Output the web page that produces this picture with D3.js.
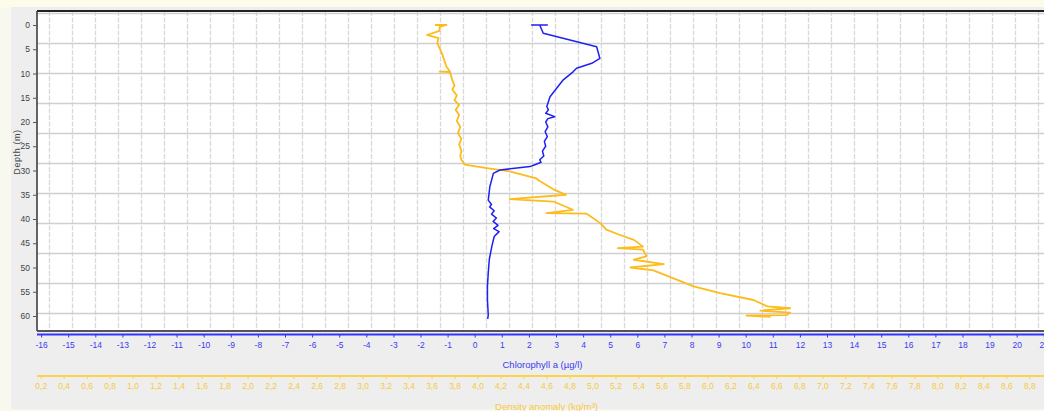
<!DOCTYPE html>
<html>
<head>
<meta charset="utf-8">
<script src="https://cdnjs.cloudflare.com/ajax/libs/d3/7.8.5/d3.min.js"></script>
<style>
body{ margin:0; padding:0; background:#f8f8ef; overflow:hidden; }
svg{ display:block; font-family:"Liberation Sans", Arial, sans-serif; }
</style>
</head>
<body>
<div id="chart"></div>
<script>
// chlorophyll a profile (µg/l) vs depth (m)
var chlDepth = [0, 0, 0, 1.7, 4.5, 6.9, 7.9, 8.9, 9.6, 11.3, 13.0, 14.8, 16.8, 17.5, 18.2, 18.9, 19.3, 20.0, 21.0, 22.0, 23.0, 24.0, 25.0, 26.0, 27.0, 27.8, 28.3, 28.8, 29.2, 29.9, 30.6, 33.3, 36.1, 37.0, 37.5, 38.3, 39.0, 39.8, 40.5, 41.3, 42.0, 42.6, 43.6, 45.7, 48.3, 51.1, 53.9, 56.6, 59.8, 60.6];
var chlValue = [2.7, 2.1, 2.4, 2.53, 4.5, 4.62, 4.32, 3.76, 3.64, 3.27, 3.03, 2.78, 2.66, 2.72, 2.62, 2.95, 2.7, 2.62, 2.7, 2.6, 2.68, 2.57, 2.62, 2.5, 2.55, 2.4, 2.45, 2.22, 2.04, 0.93, 0.69, 0.56, 0.5, 0.62, 0.55, 0.72, 0.62, 0.8, 0.68, 0.86, 0.7, 0.9, 0.72, 0.63, 0.54, 0.5, 0.47, 0.47, 0.5, 0.48];
// density anomaly profile (kg/m³) vs depth (m)
var denDepth = [0, 0, 0.4, 1.2, 2.06, 2.7, 3.8, 5.8, 8.6, 9.6, 9.6, 9.7, 11.3, 12.5, 13.3, 14.5, 15.5, 16.5, 17.5, 18.5, 19.8, 21.0, 22.3, 23.5, 24.6, 26.0, 27.0, 27.8, 28.8, 29.5, 30.2, 31.6, 32.0, 34.0, 35.0, 35.9, 36.4, 38.1, 38.8, 38.9, 40.9, 42.2, 43.3, 44.3, 45.7, 46.0, 46.3, 47.7, 48.4, 49.3, 50.0, 50.6, 52.2, 53.9, 55.3, 56.7, 58.0, 58.4, 58.9, 59.3, 59.8, 59.9, 60.2];
var denValue = [3.63, 3.73, 3.67, 3.67, 3.56, 3.66, 3.65, 3.69, 3.73, 3.76, 3.67, 3.76, 3.78, 3.80, 3.78, 3.82, 3.80, 3.84, 3.81, 3.84, 3.82, 3.85, 3.83, 3.86, 3.84, 3.86, 3.85, 3.86, 3.89, 4.08, 4.28, 4.51, 4.53, 4.67, 4.77, 4.28, 4.66, 4.83, 4.60, 4.95, 5.07, 5.12, 5.24, 5.36, 5.44, 5.22, 5.44, 5.47, 5.36, 5.62, 5.33, 5.53, 5.70, 5.88, 6.11, 6.40, 6.52, 6.72, 6.46, 6.72, 6.69, 6.34, 6.55];

var depthTicks = d3.range(0, 61, 5);
var chlTicks = d3.range(-16, 22, 1);
var denTicks = d3.range(0.2, 9.0, 0.2).map(function(v){ return Math.round(v*10)/10; });
// background grid of the plot panel (fixed spacing, not tied to the ticks)
var gridDen = d3.range(0.275, 9.2, 0.2);
var gridDepth = d3.range(-2.41, 63, 6.175);

var W = 1044, H = 411;
var plot = {left:37, top:11, right:1044, bottom:331};

var y = d3.scaleLinear().domain([0, 60]).range([25, 316]);
var xChl = d3.scaleLinear().domain([-16, 20]).range([41.1, 1016.7]);
var xDen = d3.scaleLinear().domain([0.2, 8.8]).range([40.7, 1029.3]);

var svg = d3.select("#chart").append("svg")
    .attr("width", W)
    .attr("height", H);

svg.append("rect").attr("x", 0).attr("y", 0).attr("width", W).attr("height", 8).attr("fill", "#fcfce8");
svg.append("rect").attr("x", 11).attr("y", 7).attr("width", W-11).attr("height", 402).attr("fill", "#eeeeee");
svg.append("rect").attr("x", plot.left).attr("y", plot.top)
    .attr("width", plot.right-plot.left).attr("height", plot.bottom-plot.top)
    .attr("fill", "#ffffff");

var grid = svg.append("g");
grid.selectAll("line.v").data(gridDen.filter(function(d){ return xDen(d) > plot.left && xDen(d) < plot.right; }))
  .enter().append("line").attr("class", "v")
    .attr("x1", function(d){ return Math.round(xDen(d))+0.5; })
    .attr("x2", function(d){ return Math.round(xDen(d))+0.5; })
    .attr("y1", plot.top).attr("y2", plot.bottom)
    .attr("stroke", "#d9d9d9").attr("stroke-width", 1.3)
    .attr("stroke-dasharray", "5,1.5");
grid.selectAll("line.h").data(gridDepth.filter(function(d){ return y(d) > plot.top && y(d) < plot.bottom; }))
  .enter().append("line").attr("class", "h")
    .attr("x1", plot.left).attr("x2", plot.right)
    .attr("y1", function(d){ return Math.round(y(d))+0.5; })
    .attr("y2", function(d){ return Math.round(y(d))+0.5; })
    .attr("stroke", "#cfcfcf").attr("stroke-width", 1.5);

// plot border
svg.append("line").attr("x1", plot.left).attr("x2", plot.right).attr("y1", plot.top).attr("y2", plot.top)
    .attr("stroke", "#222").attr("stroke-width", 2);
svg.append("line").attr("x1", plot.left).attr("x2", plot.left).attr("y1", plot.top).attr("y2", plot.bottom)
    .attr("stroke", "#333").attr("stroke-width", 1.5);
svg.append("line").attr("x1", plot.left).attr("x2", plot.right).attr("y1", plot.bottom).attr("y2", plot.bottom)
    .attr("stroke", "#555").attr("stroke-width", 2);

// profiles
var lineDen = d3.line().x(function(d){ return xDen(d[1]); }).y(function(d){ return y(d[0]); });
var lineChl = d3.line().x(function(d){ return xChl(d[1]); }).y(function(d){ return y(d[0]); });
svg.append("path").datum(d3.zip(denDepth, denValue))
    .attr("d", lineDen).attr("fill", "none")
    .attr("stroke", "#fdbb1c").attr("stroke-width", 1.8).attr("stroke-linejoin", "round");
svg.append("path").datum(d3.zip(chlDepth, chlValue))
    .attr("d", lineChl).attr("fill", "none")
    .attr("stroke", "#1f1ff5").attr("stroke-width", 1.5).attr("stroke-linejoin", "round");

// depth axis
var yAxis = svg.append("g").attr("transform", "translate(" + plot.left + ",0)")
    .call(d3.axisLeft(y).tickValues(depthTicks).tickSize(4).tickPadding(3));
yAxis.select(".domain").remove();
yAxis.selectAll("line").attr("stroke", "#555");
yAxis.selectAll("text").attr("fill", "#444").attr("font-size", "8.5px");
svg.append("text").attr("transform", "translate(20,152) rotate(-90)")
    .attr("text-anchor", "middle").attr("fill", "#444").attr("font-size", "9px")
    .attr("letter-spacing", "0.6px").text("Depth (m)");

// chlorophyll axis
var xA = svg.append("g").attr("transform", "translate(0,334.5)")
    .call(d3.axisBottom(xChl).tickValues(chlTicks).tickSize(3).tickPadding(4).tickFormat(d3.format("d")));
xA.select(".domain").attr("d", "M" + plot.left + ",0H" + W).attr("stroke", "#3333ff").attr("stroke-width", 2);
xA.selectAll("line").attr("stroke", "#3333ff");
xA.selectAll("text").attr("fill", "#3b3bf0").attr("font-size", "8.5px").text(function(d){ return d < 0 ? "-" + (-d) : d; });
svg.append("text").attr("x", xChl(2.5)).attr("y", 368).attr("text-anchor", "middle")
    .attr("fill", "#3b3bf0").attr("font-size", "9.5px").text("Chlorophyll a (µg/l)");

// density axis
var commaFmt = function(d){ return d3.format(".1f")(d).replace(".", ","); };
var dA = svg.append("g").attr("transform", "translate(0,376)")
    .call(d3.axisBottom(xDen).tickValues(denTicks).tickSize(3).tickPadding(4).tickFormat(commaFmt));
dA.select(".domain").attr("d", "M" + plot.left + ",0H" + W).attr("stroke", "#fcd34a").attr("stroke-width", 2);
dA.selectAll("line").attr("stroke", "#fcd34a");
dA.selectAll("text").attr("fill", "#f8c93c").attr("font-size", "8.5px");
svg.append("text").attr("x", xDen(4.6)).attr("y", 410).attr("text-anchor", "middle")
    .attr("fill", "#f8c93c").attr("font-size", "9.5px").text("Density anomaly (kg/m³)");
</script>
</body>
</html>
